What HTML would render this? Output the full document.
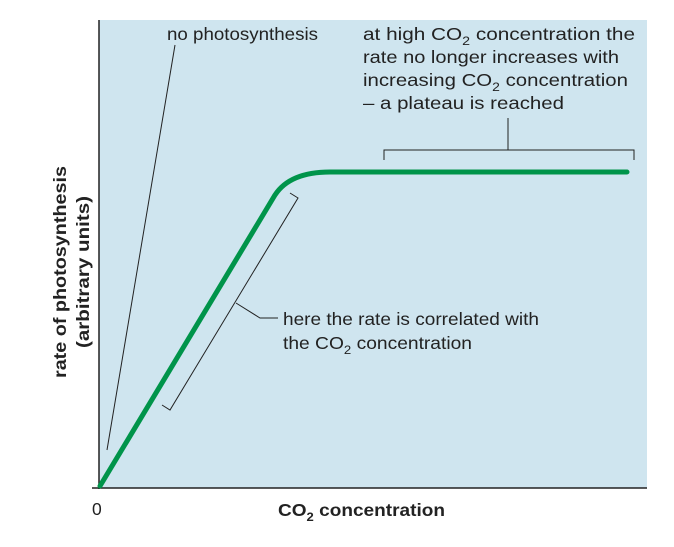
<!DOCTYPE html>
<html><head><style>
body{margin:0;background:#fff;}
svg text{font-family:"Liberation Sans",sans-serif;}
</style></head><body>
<svg width="674" height="542" xmlns="http://www.w3.org/2000/svg">
<rect x="99" y="20" width="548" height="468" fill="#cfe5ef"/>
<line x1="99" y1="20" x2="99" y2="489" stroke="#222" stroke-width="1.5"/>
<line x1="92" y1="488" x2="647" y2="488" stroke="#222" stroke-width="1.5"/>
<path d="M100,486 L275,195 Q290,172 330,172 L627,172" fill="none" stroke="#00944a" stroke-width="5" stroke-linecap="round"/>
<g stroke="#222" stroke-width="1" fill="none">
<line x1="175" y1="45" x2="107" y2="450"/>
<path d="M384,160 V150 H634 V160"/>
<line x1="508" y1="150" x2="508" y2="118"/>
<path d="M290,193 L298,198 L170,410 L162,405"/>
<path d="M236,303 L260,318 L278,318"/>
</g>
<g font-size="17.5" fill="#222">
<text x="167" y="40" textLength="151" lengthAdjust="spacingAndGlyphs">no photosynthesis</text>
<text x="363" y="40" textLength="272" lengthAdjust="spacingAndGlyphs">at high CO<tspan font-size="12" dy="5">2</tspan><tspan dy="-5"> concentration the</tspan></text>
<text x="363" y="63" textLength="256" lengthAdjust="spacingAndGlyphs">rate no longer increases with</text>
<text x="363" y="86" textLength="265" lengthAdjust="spacingAndGlyphs">increasing CO<tspan font-size="12" dy="5">2</tspan><tspan dy="-5"> concentration</tspan></text>
<text x="363" y="109" textLength="201" lengthAdjust="spacingAndGlyphs">– a plateau is reached</text>
<text x="283" y="325" textLength="256" lengthAdjust="spacingAndGlyphs">here the rate is correlated with</text>
<text x="283" y="349" textLength="189" lengthAdjust="spacingAndGlyphs">the CO<tspan font-size="12" dy="5">2</tspan><tspan dy="-5"> concentration</tspan></text>
<text x="92" y="515">0</text>
<text x="278" y="516" font-weight="bold" textLength="167" lengthAdjust="spacingAndGlyphs">CO<tspan font-size="12" dy="5">2</tspan><tspan dy="-5"> concentration</tspan></text>
<g font-weight="bold" text-anchor="middle">
<text transform="translate(66,272) rotate(-90)" textLength="212" lengthAdjust="spacingAndGlyphs">rate of photosynthesis</text>
<text transform="translate(89,272) rotate(-90)" textLength="152" lengthAdjust="spacingAndGlyphs">(arbitrary units)</text>
</g>
</g>
</svg>
</body></html>
